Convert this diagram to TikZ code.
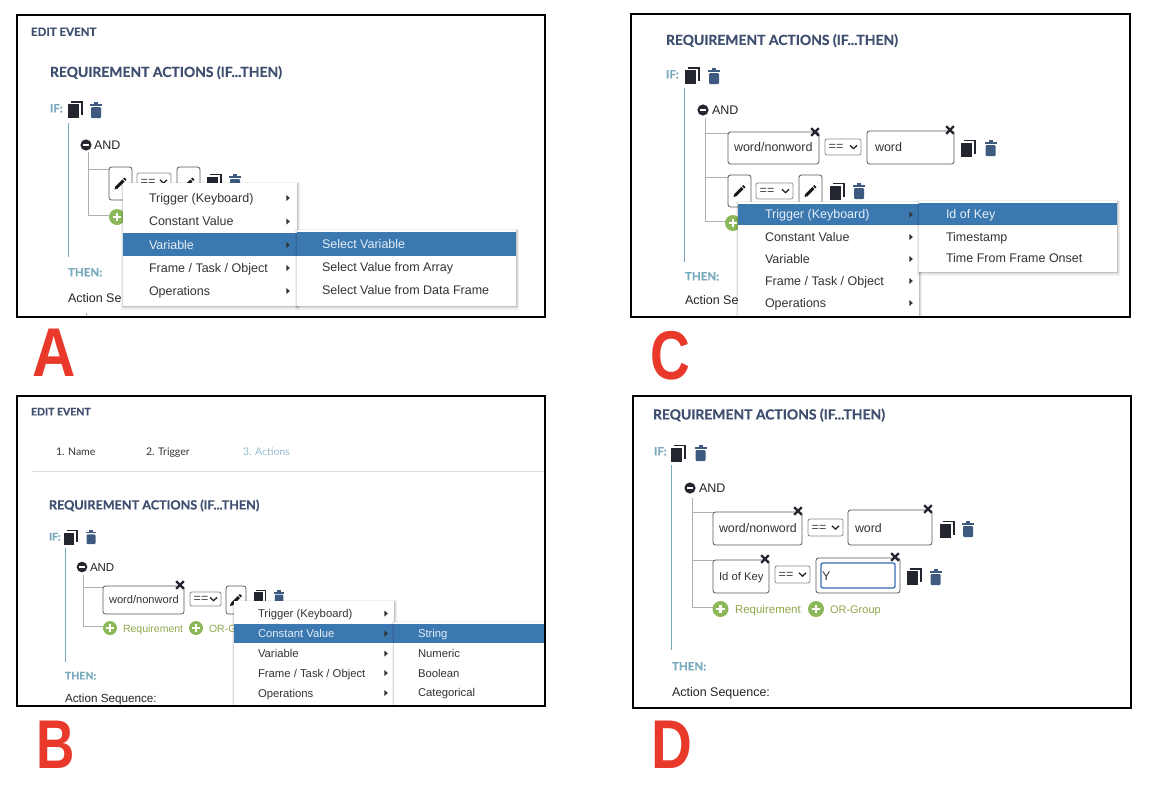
\documentclass[tikz,border=0pt]{standalone}
\usepackage{fontspec}
\setmainfont{Liberation Sans}
\newfontfamily\headf{Lato}[BoldFeatures={FakeBold=0.6}]
\definecolor{headc}{HTML}{3F4F6F}
\definecolor{tealc}{HTML}{78AABD}
\definecolor{iconc}{HTML}{23262F}
\definecolor{trashc}{HTML}{3F5A80}
\definecolor{hilite}{HTML}{3C78B0}
\definecolor{greenc}{HTML}{8DB85A}
\definecolor{greent}{HTML}{8FA84A}
\definecolor{treec}{HTML}{ABB0B0}
\definecolor{redc}{HTML}{E8392B}
\definecolor{menut}{HTML}{333333}
\definecolor{hit}{HTML}{E4EEF7}
\tikzset{
  x=1pt,y=-1pt,
  txt/.style={anchor=mid west,inner sep=0pt,outer sep=0pt,yshift=-1.8pt},
  head/.style={txt,text=headc,font={\fontsize{13.9}{15}\headf\bfseries\selectfont}},
  headB/.style={txt,text=headc,font={\fontsize{12.6}{15}\headf\bfseries\selectfont}},
  edit/.style={txt,text=headc,font={\fontsize{11.5}{14}\headf\bfseries\selectfont}},
  ifl/.style={txt,text=tealc,font={\fontsize{11.5}{14}\headf\bfseries\selectfont}},
  body/.style={txt,text=black!85,font={\fontsize{12.5}{14}\selectfont}},
  bodyS/.style={txt,text=black!85,font={\fontsize{11.7}{13}\selectfont}},
  item/.style={txt,text=menut,font={\fontsize{12.5}{14}\selectfont}},
  itemS/.style={txt,text=menut,font={\fontsize{11.3}{14}\selectfont}},
  hitem/.style={item,text=hit},
  hitemS/.style={itemS,text=hit},
  boxt/.style={txt,text=black!80,font={\fontsize{12.5}{14}\selectfont}},
  boxtS/.style={txt,text=black!80,font={\fontsize{11.1}{13}\selectfont}},
  grn/.style={txt,text=greent,font={\fontsize{11.5}{13}\selectfont}},
  grnS/.style={txt,text=greent,font={\fontsize{10.5}{12}\selectfont}},
  big/.style={anchor=center,inner sep=0pt,text=redc,font={\fontsize{69}{72}\bfseries\selectfont}},
  frame/.style={draw=black,line width=1.4pt},
  fieldbox/.style={draw=black!65,line width=.8pt,rounded corners=2.5pt,fill=white},
  teal/.style={draw=tealc,line width=1pt},
  tree/.style={draw=treec,line width=.8pt},
}
% icons, centred on the given point
\newcommand\copyicon[2]{\begin{scope}[shift={(#1,#2)}]
  \fill[iconc] (-7.5,-5.5) rectangle (3.5,8.5);
  \draw[iconc,line width=1.6pt] (-4.5,-7.7) -- (6.7,-7.7) -- (6.7,5.5);
\end{scope}}
\newcommand\trashicon[2]{\begin{scope}[shift={(#1,#2)}]
  \fill[trashc] (-6,-6) rectangle (6,-4);
  \fill[trashc] (-2,-8) rectangle (2,-6);
  \fill[trashc,rounded corners=1pt] (-5,-2.8) rectangle (5,8);
\end{scope}}
\newcommand\pencilicon[2]{\begin{scope}[shift={(#1,#2)}]
  \fill[black!90] (-6,6) -- (-5.2,3) -- (1.8,-4) -- (4,-1.8) -- (-3,5.2) -- cycle;
  \fill[black!90] (2.6,-4.8) -- (3.8,-6) -- (6,-3.8) -- (4.8,-2.6) -- cycle;
\end{scope}}
\newcommand\xmark[2]{\draw[iconc,line width=2.2pt] (#1-3.8,#2-3.8) -- (#1+3.8,#2+3.8) (#1-3.8,#2+3.8) -- (#1+3.8,#2-3.8);}
\newcommand\plusicon[3]{\fill[greenc] (#1,#2) circle (#3);
  \draw[white,line width=2.2pt] (#1-#3*.55,#2) -- (#1+#3*.55,#2) (#1,#2-#3*.55) -- (#1,#2+#3*.55);}
\newcommand\minusicon[2]{\fill[iconc] (#1,#2) circle (5.6);
  \draw[white,line width=1.6pt] (#1-3.4,#2) -- (#1+3.4,#2);}
% select: x1,y1,x2,y2
\newcommand\selectbox[4]{\draw[draw=black!45,line width=.8pt,rounded corners=2pt,fill=white] (#1,#2) rectangle (#3,#4);
  \node[anchor=mid,inner sep=0pt,text=black!75,font={\fontsize{12.5}{13}\selectfont}] at (#1+11,#2/2+#4/2+1.2) {==};
  \draw[black!85,line width=1.3pt] (#3-11,#2/2+#4/2-1.6) -- (#3-7.5,#2/2+#4/2+1.6) -- (#3-4,#2/2+#4/2-1.6);}
% field with pencil
\newcommand\pencilbox[4]{\draw[fieldbox] (#1,#2) rectangle (#3,#4);
  \pencilicon{#1/2+#3/2}{#2/2+#4/2}}
% menu panel with soft shadow
\newcommand\menupanel[4]{%
  \fill[black,opacity=.06] (#1-2,#2-1) rectangle (#3+2.5,#4+3.5);
  \fill[black,opacity=.08] (#1-1,#2) rectangle (#3+1.5,#4+2.2);
  \fill[black,opacity=.12] (#1,#2) rectangle (#3+.8,#4+1.2);
  \fill[white] (#1,#2) rectangle (#3,#4);}
\newcommand\arr[2]{\fill[black!80] (#1-1.6,#2-3) -- (#1+1.8,#2) -- (#1-1.6,#2+3) -- cycle;}
\begin{document}
\begin{tikzpicture}
\useasboundingbox (0,0) rectangle (1158,790);
\fill[white] (0,0) rectangle (1158,790);

%% ---------- Panel A
\begin{scope}
\clip (17,15) rectangle (545,317);
\node[edit] (aedit) at (31,31.5) {EDIT EVENT};
\node[head] (ahead) at (50,72.5) {REQUIREMENT ACTIONS (IF...THEN)};
\node[ifl] (aif) at (50,108) {IF:};
\copyicon{75.5}{109.5}\trashicon{96}{110}
\draw[teal] (68,123) -- (68,257);
\minusicon{86}{145}
\node[body] (aand) at (94,145) {AND};
\draw[tree] (88,152) -- (88,215) -- (109,215) (88,169) -- (109,169);
\pencilbox{109}{167}{132}{200}
\selectbox{137}{173}{171}{190}
\pencilbox{177}{167}{200}{200}
\copyicon{214.5}{182}\trashicon{235}{182}
\plusicon{117}{217}{8}
\node[ifl] (athen) at (68,272) {THEN:};
\node[body] (aseq) at (68,298) {Action Se};
\draw[tree] (86,313) -- (86,317);
\menupanel{123}{183}{297}{306}
\fill[hilite] (123,233) rectangle (297,256);
\node[item] (a1) at (149,198) {Trigger (Keyboard)};
\node[item] (a2) at (149,221.5) {Constant Value};
\node[hitem] (a3) at (149,245) {Variable};
\node[item] (a4) at (149,268) {Frame / Task / Object};
\node[item] (a5) at (149,291) {Operations};
\arr{288}{198}\arr{288}{221.5}\arr{288}{245}\arr{288}{268}\arr{288}{291}
\menupanel{297}{230}{516}{306}
\fill[hilite] (297,232) rectangle (516,256);
\node[hitem] (a6) at (322,244) {Select Variable};
\node[item] (a7) at (322,267.5) {Select Value from Array};
\node[item] (a8) at (322,290.5) {Select Value from Data Frame};
\end{scope}
\draw[frame] (17,15) rectangle (545,317);
\node[big] (lA) at (54.5,353) {\scalebox{.87}[1]{A}};

%% ---------- Panel C
\begin{scope}
\clip (631,13) rectangle (1130,317);
\node[head] (chead) at (666,40.5) {REQUIREMENT ACTIONS (IF...THEN)};
\node[ifl] (cif) at (666,74) {IF:};
\copyicon{692}{75.5}\trashicon{714}{76}
\draw[teal] (684,88) -- (684,262);
\minusicon{703}{110}
\node[body] (cand) at (712,110) {AND};
\draw[tree] (705,118) -- (705,221) -- (727,221) (705,133) -- (728,133) (705,177) -- (728,177);
\draw[fieldbox] (728,132) rectangle (819,164);
\node[boxt] (cw) at (734,147.5) {word/nonword};
\xmark{815}{132}
\selectbox{825}{139}{861}{155}
\draw[fieldbox] (867,131) rectangle (954,164);
\node[boxt] (cw2) at (875,147.5) {word};
\xmark{950}{130}
\copyicon{968.5}{148}\trashicon{990.5}{148}
\pencilbox{728}{175}{751}{207}
\selectbox{756}{183}{793}{199}
\pencilbox{799}{175}{822}{207}
\copyicon{837.5}{191}\trashicon{859}{191}
\plusicon{733}{223}{8}
\node[ifl] (cthen) at (685,276) {THEN:};
\node[body] (cseq) at (685,300) {Action Se};
\menupanel{738}{202}{919}{320}
\fill[hilite] (738,204) rectangle (919,225);
\node[hitem] (c1) at (765,214.5) {Trigger (Keyboard)};
\node[item] (c2) at (765,237) {Constant Value};
\node[item] (c3) at (765,259) {Variable};
\node[item] (c4) at (765,281) {Frame / Task / Object};
\node[item] (c5) at (765,303) {Operations};
\arr{911}{214.5}\arr{911}{237}\arr{911}{259}\arr{911}{281}\arr{911}{303}
\menupanel{919}{201}{1117}{272}
\fill[hilite] (919,203) rectangle (1117,225);
\node[hitem] (c6) at (946,214.5) {Id of Key};
\node[item] (c7) at (946,237) {Timestamp};
\node[item] (c8) at (946,258) {Time From Frame Onset};
\end{scope}
\draw[frame] (631,14) rectangle (1130,317);
\node[big] (lC) at (670.5,356) {\scalebox{.8}[1]{C}};

%% ---------- Panel B
\begin{scope}
\clip (17,396) rectangle (545,706);
\node[edit,font={\fontsize{10.5}{13}\headf\bfseries\selectfont}] (bedit) at (31,411) {EDIT EVENT};
\node[txt,text=black!80,font={\fontsize{10.5}{13}\headf\selectfont}] (b1) at (56,451) {1. Name};
\node[txt,text=black!80,font={\fontsize{10.5}{13}\headf\selectfont}] (b2) at (146,451) {2. Trigger};
\node[txt,text=tealc!80,font={\fontsize{10.5}{13}\headf\selectfont}] (b3) at (243,451) {3. Actions};
\draw[black!15,line width=.8pt] (32,471) -- (545,471);
\node[headB] (bhead) at (49,505) {REQUIREMENT ACTIONS (IF...THEN)};
\node[ifl,font={\fontsize{10.5}{13}\headf\bfseries\selectfont}] (bif) at (49,536) {IF:};
\begin{scope}[shift={(71,537.5)},scale=.9]\copyicon{0}{0}\end{scope}
\begin{scope}[shift={(91,537)},scale=.9]\trashicon{0}{0}\end{scope}
\draw[teal] (65,548) -- (65,662);
\begin{scope}[shift={(82,567)},scale=.95]\minusicon{0}{0}\end{scope}
\node[body,font={\fontsize{11.5}{13}\selectfont}] (band) at (90,567) {AND};
\draw[tree] (83,575) -- (83,626) -- (103,626) (83,587) -- (103,587);
\draw[fieldbox] (103,586) rectangle (184,614);
\node[boxtS] (bw) at (109,599.5) {word/nonword};
\xmark{180}{585}
\selectbox{190}{592}{221}{606}
\pencilbox{226}{586}{246}{614}
\begin{scope}[shift={(260,597)},scale=.85]\copyicon{0}{0}\end{scope}
\begin{scope}[shift={(279,597)},scale=.85]\trashicon{0}{0}\end{scope}
\plusicon{110}{628}{7}
\node[grnS] (breq) at (123,628) {Requirement};
\plusicon{196}{628}{7}
\node[grnS] (bor) at (209,628) {OR-G};
\node[ifl,font={\fontsize{10.5}{13}\headf\bfseries\selectfont}] (bthen) at (65,675) {THEN:};
\node[bodyS] (bseq) at (65,698) {Action Sequence:};
\menupanel{234}{601}{394}{710}
\fill[hilite] (234,624) rectangle (394,643);
\node[itemS] (bm1) at (258,613.5) {Trigger (Keyboard)};
\node[hitemS] (bm2) at (258,633.5) {Constant Value};
\node[itemS] (bm3) at (258,653.5) {Variable};
\node[itemS] (bm4) at (258,673) {Frame / Task / Object};
\node[itemS] (bm5) at (258,693) {Operations};
\arr{386}{613.5}\arr{386}{633.5}\arr{386}{653.5}\arr{386}{673}\arr{386}{693}
\menupanel{394}{622}{560}{710}
\fill[hilite] (394,624) rectangle (560,643);
\node[hitemS] (bm6) at (418,633.5) {String};
\node[itemS] (bm7) at (418,653) {Numeric};
\node[itemS] (bm8) at (418,673) {Boolean};
\node[itemS] (bm9) at (418,692.5) {Categorical};
\end{scope}
\draw[frame] (17,396) rectangle (545,706);
\node[big] (lB) at (56,745) {\scalebox{.77}[1]{B}};

%% ---------- Panel D
\begin{scope}
\clip (633,396) rectangle (1131,708);
\node[head] (dhead) at (653,415) {REQUIREMENT ACTIONS (IF...THEN)};
\node[ifl] (dif) at (654,451) {IF:};
\copyicon{678.5}{453}\trashicon{700.5}{453}
\draw[teal] (671,465) -- (671,650);
\minusicon{690}{488}
\node[body] (dand) at (699,488) {AND};
\draw[tree] (692,498) -- (692,607) -- (713,607) (692,512) -- (713,512) (692,560) -- (713,560);
\draw[fieldbox] (713,512) rectangle (802,545);
\node[boxt,font={\fontsize{12.4}{14}\selectfont}] (dw) at (719,528.5) {word/nonword};
\xmark{798}{511}
\selectbox{808}{519}{843}{536}
\draw[fieldbox] (848,510) rectangle (932,545);
\node[boxt,font={\fontsize{12.4}{14}\selectfont}] (dw2) at (855,528.5) {word};
\xmark{928}{509}
\copyicon{947}{529}\trashicon{968}{529}
\draw[fieldbox] (713,560) rectangle (769,593);
\node[boxt,font={\fontsize{11.3}{13}\selectfont}] (did) at (719,576.5) {Id of Key};
\xmark{765}{559}
\selectbox{775}{566}{810}{583}
\draw[fieldbox] (816,558) rectangle (900,593);
\draw[draw=hilite!90!blue,line width=1.3pt,rounded corners=2pt] (821,563) rectangle (895,588);
\node[boxt] (dy) at (822,576) {Y};
\xmark{895}{557}
\copyicon{914}{576.5}\trashicon{935.5}{577}
\plusicon{720.5}{609}{8}
\node[grn] (dreq) at (735,609) {Requirement};
\plusicon{816}{609}{8}
\node[grn,font={\fontsize{11}{13}\selectfont}] (dor) at (830,609) {OR-Group};
\node[ifl] (dthen) at (672,666) {THEN:};
\node[body] (dseq) at (672,692.5) {Action Sequence:};
\end{scope}
\draw[frame] (633,396) rectangle (1131,708);
\node[big] (lD) at (671.5,745) {\scalebox{.82}[1]{D}};
\end{tikzpicture}
\end{document}
